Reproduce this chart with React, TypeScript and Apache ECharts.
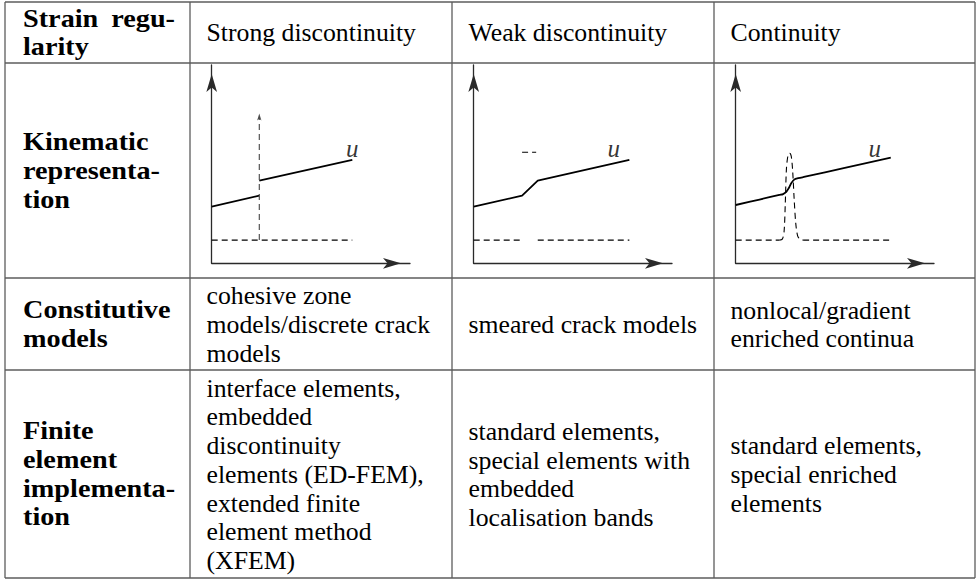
import React, { useEffect, useRef } from "react";
import * as echarts from "echarts";

const W = 978;
const H = 579;

// Table geometry (pixel rulings of the table)
const colLines = [5, 190, 452, 714, 975];
const rowLines = [2, 63, 278, 370, 578];

// Table texts
const rowHeads = [
  ["Strain regu-", "larity"],
  ["Kinematic", "representa-", "tion"],
  ["Constitutive", "models"],
  ["Finite", "element", "implementa-", "tion"],
];
const regularityCols = ["Strong discontinuity", "Weak discontinuity", "Continuity"];
const constitutiveCols = [
  ["cohesive zone", "models/discrete crack", "models"],
  ["smeared crack models"],
  ["nonlocal/gradient", "enriched continua"],
];
const feCols = [
  ["interface elements,", "embedded", "discontinuity", "elements (ED-FEM),", "extended finite", "element method", "(XFEM)"],
  ["standard elements,", "special elements with", "embedded", "localisation bands"],
  ["standard elements,", "special enriched", "elements"],
];

// Mini plots: values in a 0..10 by 0..10 space
const strongUBefore = [[0, 2.86], [2.4, 3.41]];
const strongUAfter = [[2.4, 4.17], [7.09, 5.21]];
const strongStrain = [[0, 1.17], [7.09, 1.17]];
const strongSpike = [[2.4, 1.17], [2.4, 7.35]];
const strongSpikeTip = [[2.4, 7.55]];
const strongLabels = [[7.09, 5.8, "u"]];
const weakU = [[0, 2.86], [2.44, 3.41], [3.23, 4.17], [7.85, 5.21]];
const weakStrainLeft = [[0, 1.17], [2.44, 1.17]];
const weakStrainBand = [[2.44, 5.6], [3.15, 5.6]];
const weakStrainRight = [[3.23, 1.17], [7.85, 1.17]];
const weakLabels = [[7.06, 5.8, "u"]];
const contU = [
  [0, 2.94], [1.2, 3.216], [2.2, 3.446], [2.39, 3.49], [2.55, 3.6], [2.68, 3.8],
  [2.8, 4.04], [2.95, 4.22], [3.15, 4.29], [3.5, 4.366], [5.5, 4.812], [7.82, 5.33],
];
const contStrainLeft = [[0, 1.17], [2.2, 1.17]];
const contStrainBump = [
  [2.2, 1.17], [2.35, 1.22], [2.44, 1.6], [2.5, 3.0], [2.56, 4.8], [2.64, 5.45],
  [2.72, 5.55], [2.8, 5.4], [2.87, 4.7], [2.95, 3.2], [3.03, 2.0], [3.12, 1.4],
  [3.25, 1.2], [3.4, 1.17],
];
const contStrainRight = [[3.4, 1.17], [7.82, 1.17]];
const contLabels = [[7.01, 5.8, "u"]];

const SERIF = "Liberation Serif";
const LH = 28.7;

function textEl(text: string, x: number, y: number, bold: boolean, align: string) {
  const style: any = {
    text,
    fontFamily: SERIF,
    fontSize: 25,
    fill: "#000",
    textAlign: align,
    textVerticalAlign: "middle",
  };
  if (bold) style.fontWeight = "bold";
  return { type: "text", x, y, scaleX: bold ? 1.13 : 1.03, style };
}

function cellLines(lines: string[], x: number, cy: number, bold: boolean) {
  const n = lines.length;
  const out: any[] = [];
  lines.forEach((t, i) => {
    const y = cy + (i - (n - 1) / 2) * LH;
    if (bold && t === "Strain regu-") {
      const parts = t.split(" ");
      out.push(textEl(parts[0], x, y, true, "left"));
      out.push(textEl(parts[1], colLines[1] - 15, y, true, "right"));
    } else {
      out.push(textEl(t, x, y, bold, "left"));
    }
  });
  return out;
}

function buildGraphic() {
  const els: any[] = [];
  const stroke = { stroke: "#5c5c5c", lineWidth: 1.3 };
  rowLines.forEach((y) =>
    els.push({ type: "line", shape: { x1: colLines[0], y1: y, x2: colLines[4], y2: y }, style: stroke })
  );
  colLines.forEach((x) =>
    els.push({ type: "line", shape: { x1: x, y1: rowLines[0], x2: x, y2: rowLines[4] }, style: stroke })
  );
  const rowCenter = (r: number) => (rowLines[r] + rowLines[r + 1]) / 2;
  const colX = (c: number) => (c === 0 ? 23 : colLines[c] + 16.5);
  rowHeads.forEach((lines, r) => els.push(...cellLines(lines, colX(0), rowCenter(r), true)));
  regularityCols.forEach((t, c) => els.push(...cellLines([t], colX(c + 1), rowCenter(0), false)));
  constitutiveCols.forEach((lines, c) => els.push(...cellLines(lines, colX(c + 1), rowCenter(2), false)));
  feCols.forEach((lines, c) => els.push(...cellLines(lines, colX(c + 1), rowCenter(3), false)));
  return els;
}

const plotLeft = [colLines[1] + 21.7, colLines[2] + 21.7, colLines[3] + 21.7];
const plotTop = 65;
const plotSize = 198.3;

function axis(gridIndex: number) {
  return {
    type: "value",
    gridIndex,
    min: 0,
    max: 10,
    axisLine: {
      show: true,
      onZero: false,
      symbol: ["none", "arrow"],
      symbolSize: [8, 18],
      symbolOffset: [0, -9],
      lineStyle: { color: "#2a2a2a", width: 1.3 },
    },
    axisTick: { show: false },
    axisLabel: { show: false },
    splitLine: { show: false },
  };
}

const solid = { color: "#000", width: 1.8, type: "solid" };
const dashed = { color: "#000", width: 1.1, type: [6, 4] };

function lineSeries(data: number[][], g: number, style: any, smooth: any = false) {
  return { type: "line", xAxisIndex: g, yAxisIndex: g, data, symbol: "none", smooth, silent: true, lineStyle: style, z: 3 };
}

function labelSeries(data: any[][], g: number) {
  return {
    type: "scatter",
    xAxisIndex: g,
    yAxisIndex: g,
    data,
    symbolSize: 1,
    silent: true,
    itemStyle: { color: "rgba(0,0,0,0)" },
    label: {
      show: true,
      position: "inside",
      formatter: (p: any) => p.data[2],
      fontFamily: SERIF,
      fontStyle: "italic",
      fontSize: 25,
      color: "#000",
    },
  };
}

export default function App() {
  const ref = useRef<HTMLDivElement>(null);
  useEffect(() => {
    if (!ref.current) return;
    document.body.style.margin = "0";
    const chart = echarts.init(ref.current, null, { renderer: "svg" });
    const option: any = {
      animation: false,
      grid: plotLeft.map((l) => ({ left: l, top: plotTop, width: plotSize, height: plotSize })),
      xAxis: [axis(0), axis(1), axis(2)],
      yAxis: [axis(0), axis(1), axis(2)],
      graphic: buildGraphic(),
      series: [
        lineSeries(strongUBefore, 0, solid),
        lineSeries(strongUAfter, 0, solid),
        lineSeries(strongStrain, 0, dashed),
        lineSeries(strongSpike, 0, { ...dashed, color: "#444" }),
        {
          type: "scatter",
          xAxisIndex: 0,
          yAxisIndex: 0,
          data: strongSpikeTip,
          symbol: "arrow",
          symbolSize: [3.2, 7],
          silent: true,
          itemStyle: { color: "#222" },
        },
        labelSeries(strongLabels, 0),
        lineSeries(weakU, 1, solid),
        lineSeries(weakStrainLeft, 1, dashed),
        lineSeries(weakStrainBand, 1, dashed),
        lineSeries(weakStrainRight, 1, dashed),
        labelSeries(weakLabels, 1),
        lineSeries(contU, 2, solid, 0.35),
        lineSeries(contStrainLeft, 2, dashed),
        lineSeries(contStrainBump, 2, dashed, 0.3),
        lineSeries(contStrainRight, 2, dashed),
        labelSeries(contLabels, 2),
      ],
    };
    chart.setOption(option);
    return () => chart.dispose();
  }, []);
  return <div ref={ref} style={{ width: W, height: H }} />;
}
